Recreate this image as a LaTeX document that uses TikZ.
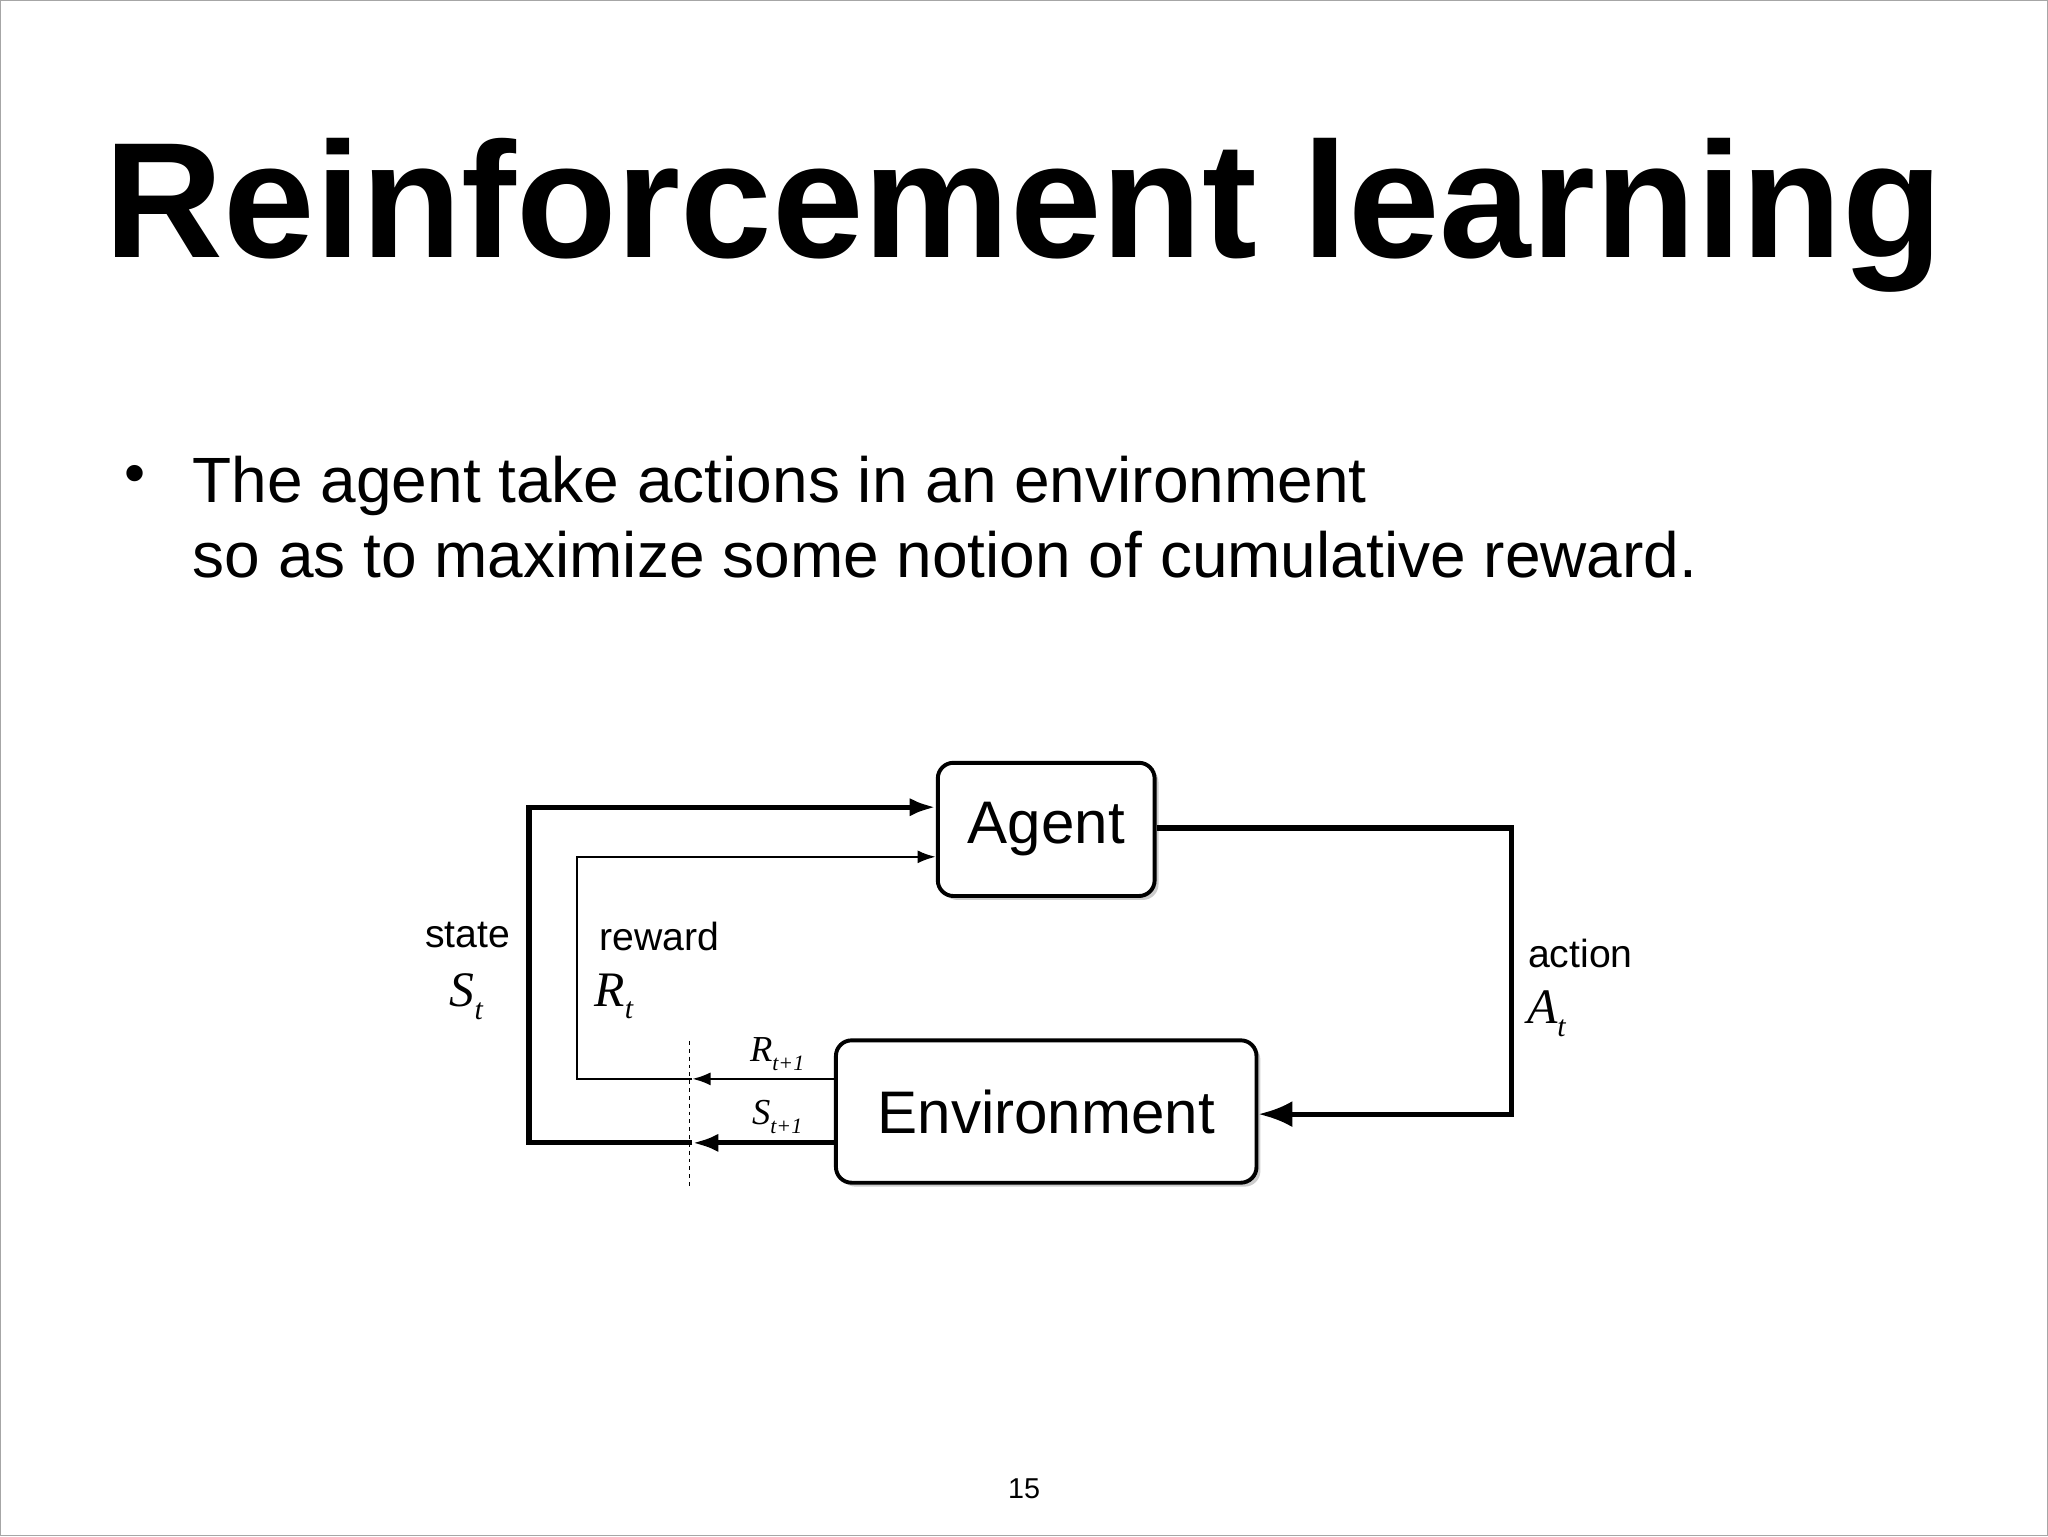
\documentclass[tikz,border=0pt]{standalone}
\usepackage{fontspec}
\setmainfont{Liberation Sans}
\newfontfamily\tms{Liberation Serif}
\usetikzlibrary{arrows.meta,shadows}
\newcommand{\tv}[2]{{\tms\itshape #1}\raisebox{-0.25em}{\tms\itshape\fontsize{0.6em}{0.6em}\selectfont #2}}
\begin{document}
\begin{tikzpicture}[x=1pt,y=-1pt,
  box/.style={draw,line width=3pt,rounded corners=12pt,fill=white,drop shadow={shadow xshift=3pt,shadow yshift=-3pt,opacity=0.4}},
  thickl/.style={line width=4pt},
  thinl/.style={line width=1.8pt},
  lbl/.style={font=\fontsize{30}{34}\selectfont},
  mlbl/.style={font=\fontsize{38}{40}\selectfont},
  slbl/.style={font=\fontsize{28}{30}\selectfont}]
\draw[gray!70,line width=1pt] (0.5,0.5) rectangle (1567.5,1175.5);
\useasboundingbox (0,0) rectangle (1568,1176);
\node (title) at (784,165) {\fontsize{126}{140}\selectfont\bfseries Reinforcement learning};
\node (bul) at (103,367) {\fontsize{46}{50}\selectfont •};
\node[anchor=west,align=left,font=\fontsize{49}{58}\selectfont] (txt) at (144,396) {The agent take actions in an environment\\so as to maximize some notion of cumulative reward.};
\node (page) at (784,1140) {\fontsize{22}{26}\selectfont 15};

\node[box,minimum width=166pt,minimum height=102pt] (agent) at (801,635) {\fontsize{46}{48}\selectfont Agent};
\node[box,minimum width=322pt,minimum height=109pt] (env) at (801,851) {\fontsize{46}{48}\selectfont Environment};

\coordinate (d1) at (528,797); \coordinate (d2) at (528,908);
\draw[dashed,line width=1.2pt] (d1) -- (d2);

% state
\coordinate (sa) at (530,875); \coordinate (sb) at (405,875); \coordinate (sc) at (405,618);
\draw[thickl,-{Latex[length=20pt,width=14pt]}] (env.west|-sa) -- (sa);
\draw[thickl,-{Latex[length=20pt,width=14pt]}] (sa) -- (sb) -- (sc) -- (sc-|agent.west);
% reward
\coordinate (ra) at (530,826); \coordinate (rb) at (442,826); \coordinate (rc) at (442,656);
\draw[thinl,-{Latex[length=14pt,width=10pt]}] (env.west|-ra) -- (ra);
\draw[thinl,-{Latex[length=14pt,width=10pt]}] (ra) -- (rb) -- (rc) -- (rc-|agent.west);
% action
\coordinate (aa) at (1157,634); \coordinate (ab) at (1157,853);
\draw[thickl,-{Latex[length=26pt,width=20pt]}] (agent.east|-aa) -- (aa) -- (ab) -- (ab-|env.east);

\node[lbl] (st) at (358,716) {state};
\node[mlbl] (stm) at (357,763) {\tv{S}{t}};
\node[lbl] (rw) at (505,717) {reward};
\node[mlbl] (rtm) at (470,763) {\tv{R}{t}};
\node[lbl] (ac) at (1210,730) {action};
\node[mlbl] (atm) at (1184,776) {\tv{A}{t}};
\node[slbl] (r1) at (595,807) {\tv{R}{t+1}};
\node[slbl] (s1) at (595,855) {\tv{S}{t+1}};
\end{tikzpicture}
\end{document}
